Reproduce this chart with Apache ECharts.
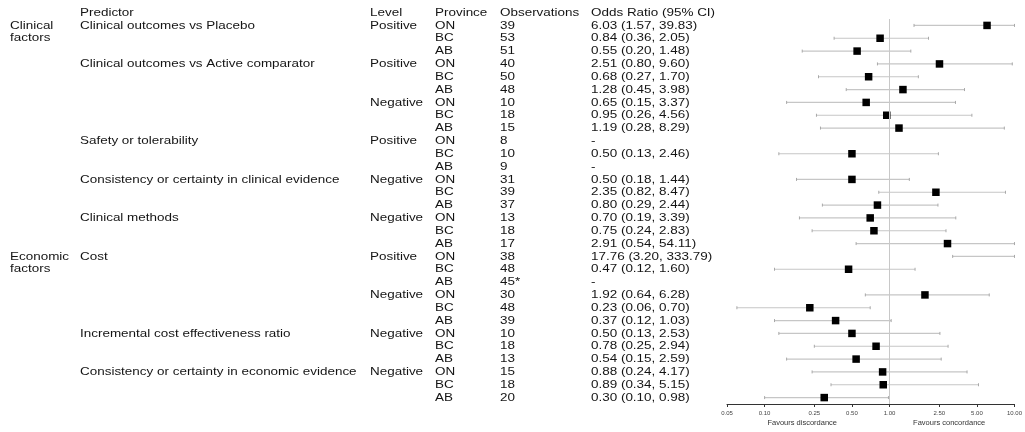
<!DOCTYPE html>
<html>
<head>
<meta charset="utf-8">
<title>Odds ratios by predictor, level and province</title>
<script src="https://cdn.jsdelivr.net/npm/echarts@6/dist/echarts.min.js"></script>
<style>
  html, body { margin: 0; padding: 0; background: #fff; }
  #chart { width: 1025px; height: 432px; }
</style>
</head>
<body>
<div id="chart"></div>
<script>
// table rows, top to bottom
const groupLabels = ['Clinical\nfactors', '', '', '', '', '', '', '', '', '', '', '', '', '', '', '', '', '',
  'Economic\nfactors', '', '', '', '', '', '', '', '', '', '', '']
const predictors = [
  'Clinical outcomes vs Placebo', '', '',
  'Clinical outcomes vs Active comparator', '', '', '', '', '',
  'Safety or tolerability', '', '',
  'Consistency or certainty in clinical evidence', '', '',
  'Clinical methods', '', '',
  'Cost', '', '', '', '', '',
  'Incremental cost effectiveness ratio', '', '',
  'Consistency or certainty in economic evidence', '', ''
]
const levels = ['Positive', '', '', 'Positive', '', '', 'Negative', '', '', 'Positive', '', '',
  'Negative', '', '', 'Negative', '', '', 'Positive', '', '', 'Negative', '', '',
  'Negative', '', '', 'Negative', '', '']
const provinces = ['ON', 'BC', 'AB', 'ON', 'BC', 'AB', 'ON', 'BC', 'AB', 'ON', 'BC', 'AB',
  'ON', 'BC', 'AB', 'ON', 'BC', 'AB', 'ON', 'BC', 'AB', 'ON', 'BC', 'AB',
  'ON', 'BC', 'AB', 'ON', 'BC', 'AB']
const observations = ['39', '53', '51', '40', '50', '48', '10', '18', '15', '8', '10', '9',
  '31', '39', '37', '13', '18', '17', '38', '48', '45*', '30', '48', '39',
  '10', '18', '13', '15', '18', '20']
const oddsRatio = [6.03, 0.84, 0.55, 2.51, 0.68, 1.28, 0.65, 0.95, 1.19, null, 0.50, null,
  0.50, 2.35, 0.80, 0.70, 0.75, 2.91, 17.76, 0.47, null, 1.92, 0.23, 0.37,
  0.50, 0.78, 0.54, 0.88, 0.89, 0.30]
const ciLow = [1.57, 0.36, 0.20, 0.80, 0.27, 0.45, 0.15, 0.26, 0.28, null, 0.13, null,
  0.18, 0.82, 0.29, 0.19, 0.24, 0.54, 3.20, 0.12, null, 0.64, 0.06, 0.12,
  0.13, 0.25, 0.15, 0.24, 0.34, 0.10]
const ciHigh = [39.83, 2.05, 1.48, 9.60, 1.70, 3.98, 3.37, 4.56, 8.29, null, 2.46, null,
  1.44, 8.47, 2.44, 3.39, 2.83, 54.11, 333.79, 1.60, null, 6.28, 0.70, 1.03,
  2.53, 2.94, 2.59, 4.17, 5.15, 0.98]

const headers = ['Predictor', 'Level', 'Province', 'Observations', 'Odds Ratio (95% CI)']
const xTicks = [0.05, 0.10, 0.25, 0.50, 1.00, 2.50, 5.00, 10.00]
const favourLabels = ['Favours discordance', 'Favours concordance']
const favourAt = [0.2, 3]

// layout
const colX = [10, 80, 370, 435, 500, 591] // group, predictor, level, province, obs, OR
const textColor = '#141414'
const fontFamily = '"Liberation Sans", Arial, sans-serif'

const log = v => Math.log10(v)
const logMin = log(xTicks[0])
const logMax = log(xTicks[xTicks.length - 1])
const nRows = oddsRatio.length

function orText(i) {
  if (oddsRatio[i] == null) return '-'
  return `${oddsRatio[i].toFixed(2)} (${ciLow[i].toFixed(2)}, ${ciHigh[i].toFixed(2)})`
}

function cellsFor(row) {
  if (row === 0) return ['', ...headers]
  const i = row - 1
  return [groupLabels[i], predictors[i], levels[i], provinces[i], observations[i], orText(i)]
}

function textEl(x, y, text, extra) {
  return {
    type: 'text',
    x: x,
    y: y,
    scaleX: 1.16,
    silent: true,
    style: Object.assign({
      text: text,
      fill: textColor,
      fontSize: 11.6,
      fontFamily: fontFamily,
      align: 'left',
      verticalAlign: 'middle'
    }, extra || {})
  }
}

function renderTable(params, api) {
  const row = api.value(1)
  const y = api.coord([0, row])[1]
  const band = api.size([0, 1])[1]
  const children = []
  cellsFor(row).forEach((t, c) => {
    if (!t) return
    const x = api.coord([colX[c], row])[0]
    if (t.indexOf('\n') >= 0) {
      children.push(textEl(x, y - band / 2, t, { verticalAlign: 'top', lineHeight: band }))
    } else {
      children.push(textEl(x, y, t))
    }
  })
  return { type: 'group', children }
}

function renderCI(params, api) {
  const row = api.value(0)
  const lo = Math.max(api.value(1), logMin)
  const hi = Math.min(api.value(2), logMax)
  const p1 = api.coord([lo, row])
  const p2 = api.coord([hi, row])
  const style = { stroke: '#c6c6c6', lineWidth: 1.2 }
  const capStyle = { stroke: '#a8a8a8', lineWidth: 1 }
  return {
    type: 'group',
    children: [
      { type: 'line', shape: { x1: p1[0], y1: p1[1], x2: p2[0], y2: p2[1] }, style },
      { type: 'line', shape: { x1: p1[0], y1: p1[1] - 1.5, x2: p1[0], y2: p1[1] + 1.5 }, style: capStyle },
      { type: 'line', shape: { x1: p2[0], y1: p2[1] - 1.5, x2: p2[0], y2: p2[1] + 1.5 }, style: capStyle }
    ]
  }
}

const rowIdx = oddsRatio.map((_, i) => i)
const ciData = rowIdx.filter(i => ciLow[i] != null).map(i => [i, log(ciLow[i]), log(ciHigh[i])])
const pointData = rowIdx
  .filter(i => oddsRatio[i] != null && log(oddsRatio[i]) <= logMax)
  .map(i => [log(oddsRatio[i]), i])
const tableData = Array.from({ length: nRows + 1 }, (_, i) => [0, i])

const chart = echarts.init(document.getElementById('chart'))
chart.setOption({
  animation: false,
  backgroundColor: '#fff',
  grid: [
    { left: 0, width: 720, top: 6.16, bottom: 28 },
    { left: 727, right: 7, top: 19, bottom: 28 }
  ],
  xAxis: [
    { gridIndex: 0, type: 'value', min: 0, max: 720, show: false },
    {
      gridIndex: 1,
      type: 'value',
      min: logMin,
      max: logMax,
      axisLine: { show: true, lineStyle: { color: '#333', width: 1 } },
      axisTick: { show: true, length: 3, customValues: xTicks.map(log), lineStyle: { color: '#333' } },
      axisLabel: {
        customValues: xTicks.map(log),
        formatter: v => Math.pow(10, v).toFixed(2),
        fontSize: 6,
        color: '#444',
        margin: 6,
        fontFamily: fontFamily
      },
      splitLine: { show: false }
    },
    {
      gridIndex: 1,
      type: 'value',
      position: 'bottom',
      min: logMin,
      max: logMax,
      axisLine: { show: false },
      axisTick: { show: false },
      splitLine: { show: false },
      axisLabel: {
        customValues: favourAt.map(log),
        formatter: v => favourLabels[favourAt.findIndex(f => Math.abs(log(f) - v) < 1e-6)] || '',
        fontSize: 7.5,
        color: '#333',
        margin: 15,
        fontFamily: fontFamily
      }
    }
  ],
  yAxis: [
    { gridIndex: 0, type: 'category', inverse: true, data: tableData.map(d => d[1]), show: false },
    { gridIndex: 1, type: 'category', inverse: true, data: rowIdx, show: false }
  ],
  series: [
    {
      type: 'custom',
      xAxisIndex: 0,
      yAxisIndex: 0,
      data: tableData,
      encode: { x: 0, y: 1 },
      renderItem: renderTable
    },
    {
      type: 'custom',
      xAxisIndex: 1,
      yAxisIndex: 1,
      z: 1,
      data: ciData,
      encode: { x: [1, 2], y: 0 },
      renderItem: renderCI,
      markLine: {
        silent: true,
        symbol: 'none',
        label: { show: false },
        lineStyle: { color: '#c8c8c8', width: 1, type: 'solid' },
        data: [{ xAxis: log(1) }]
      }
    },
    {
      type: 'scatter',
      xAxisIndex: 1,
      yAxisIndex: 1,
      z: 3,
      symbol: 'rect',
      symbolSize: 7.5,
      itemStyle: { color: '#000', opacity: 1 },
      data: pointData
    }
  ]
})
</script>
</body>
</html>
